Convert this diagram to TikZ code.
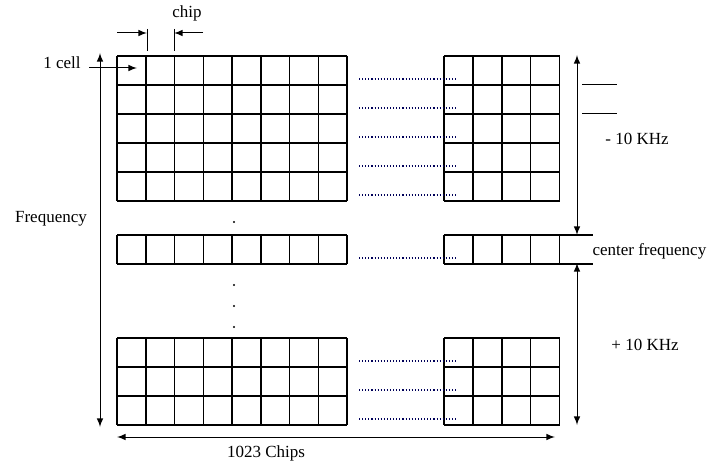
\documentclass[tikz,border=0pt]{standalone}
\usepackage{fontspec}
\setmainfont{Liberation Serif}
\begin{document}
\begin{tikzpicture}[x=0.5pt, y=-0.5pt, >=latex, line width=0.5pt,
        cellgrid/.style={line width=0.75pt},
        dotrow/.style={densely dotted, line width=0.55pt, black!65!blue},
        lbl/.style={font=\fontsize{8.5}{10}\selectfont, inner sep=0pt}]
        \useasboundingbox (0,0) rectangle (707,465);

        % Top block: 5 rows, left part 8 cells, right part 4 cells
        \foreach \i in {0,...,8} \draw[cellgrid] (117+\i*28.75,56) -- (117+\i*28.75,201);
        \foreach \i in {0,...,4} \draw[cellgrid] (444+\i*28.9,56) -- (444+\i*28.9,201);
        \foreach \j in {0,...,5} {
            \draw[cellgrid] (117,56+\j*29) -- (347,56+\j*29);
            \draw[cellgrid] (444,56+\j*29) -- (559.6,56+\j*29);
        }
        \foreach \j in {1,...,5} \draw[dotrow] (359,50+\j*29) -- (457,50+\j*29);

        % Center frequency row
        \foreach \i in {0,...,8} \draw[cellgrid] (117+\i*28.75,235) -- (117+\i*28.75,264);
        \foreach \i in {0,...,4} \draw[cellgrid] (444+\i*28.9,235) -- (444+\i*28.9,264);
        \draw[cellgrid] (117,235) -- (347,235);
        \draw[cellgrid] (117,264) -- (347,264);
        \draw[cellgrid] (444,235) -- (593,235);
        \draw[cellgrid] (444,264) -- (593,264);
        \draw[dotrow] (359,258) -- (457,258);

        % Bottom block: 3 rows
        \foreach \i in {0,...,8} \draw[cellgrid] (117+\i*28.75,338) -- (117+\i*28.75,425);
        \foreach \i in {0,...,4} \draw[cellgrid] (444+\i*28.9,338) -- (444+\i*28.9,425);
        \foreach \j in {0,...,3} {
            \draw[cellgrid] (117,338+\j*29) -- (347,338+\j*29);
            \draw[cellgrid] (444,338+\j*29) -- (559.6,338+\j*29);
        }
        \foreach \j in {1,...,3} \draw[dotrow] (359,332+\j*29) -- (457,332+\j*29);

        % Vertical dots between the blocks
        \foreach \y in {222,285,306,327} \fill (234,\y) circle (0.6pt);

        % Labels
        \node[lbl] (chip) at (187,13) {chip};
        \node[lbl] (cell) at (62,63) {1 cell};
        \node[lbl] (freq) at (51,219) {Frequency};
        \node[lbl] (minus) at (637,139) {- 10 KHz};
        \node[lbl, anchor=west] (center) at (592,251) {center frequency};
        \node[lbl] (plus) at (645,345) {+ 10 KHz};
        \node[lbl] (chips) at (266,453) {1023 Chips};

        % Arrow end points
        \coordinate (cellA) at (89,68);
        \coordinate (cellB) at (137,68);
        \coordinate (chipL) at (147,33);
        \coordinate (chipR) at (174,33);
        \coordinate (freqT) at (100,53);
        \coordinate (freqB) at (100,427);
        \coordinate (upT) at (577,55);
        \coordinate (upB) at (577,235);
        \coordinate (dnT) at (577,263);
        \coordinate (dnB) at (577,425);
        \coordinate (widthL) at (117,437);
        \coordinate (widthR) at (555,437);

        % Chip width marker
        \draw (chipL) ++(0,-4) -- ++(0,22);
        \draw (chipR) ++(0,-4) -- ++(0,22);
        \draw[->] (117,33) -- (chipL);
        \draw[->] (203,33) -- (chipR);

        \draw[->] (cellA) -- (cellB);
        \draw[<->] (freqT) -- (freqB);
        \draw[<->] (upT) -- (upB);
        \draw[<->] (dnT) -- (dnB);
        \draw[<->] (widthL) -- (widthR);

        % Short marks beside the upper band
        \draw (582,85) -- (617,85);
        \draw (582,114) -- (617,114);
    \end{tikzpicture}
\end{document}
